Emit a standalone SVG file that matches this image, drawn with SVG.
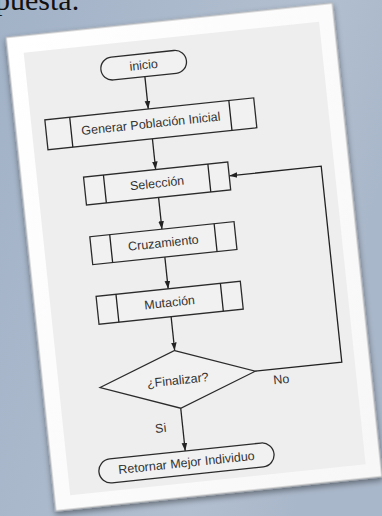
<svg xmlns="http://www.w3.org/2000/svg" width="382" height="516" viewBox="0 0 382 516">
<defs>
  <linearGradient id="bg" x1="0" y1="0" x2="1" y2="0.35">
    <stop offset="0" stop-color="#a2b2c7"/>
    <stop offset="0.75" stop-color="#b2bfd0"/>
    <stop offset="1" stop-color="#a9b7ca"/>
  </linearGradient>
  <linearGradient id="paperg" x1="0" y1="0" x2="1" y2="1">
    <stop offset="0" stop-color="#ffffff"/>
    <stop offset="1" stop-color="#f7f7f7"/>
  </linearGradient>
  <filter id="sh" x="-10%" y="-10%" width="120%" height="120%">
    <feGaussianBlur in="SourceAlpha" stdDeviation="3"/>
    <feOffset dx="0" dy="3"/>
    <feComponentTransfer><feFuncA type="linear" slope="0.45"/></feComponentTransfer>
    <feMerge><feMergeNode/><feMergeNode in="SourceGraphic"/></feMerge>
  </filter>
  <marker id="ah" viewBox="0 0 10 10" refX="10" refY="5" markerWidth="8" markerHeight="8" orient="auto" markerUnits="userSpaceOnUse">
    <path d="M0,1.5 L10,5 L0,8.5 z" fill="#222"/>
  </marker>
  <style>
    .box{fill:#f1f1f1;stroke:#2b2b2b;stroke-width:1.3}
    .t{font-family:"Liberation Sans",Arial,sans-serif;font-size:12.5px;fill:#333;text-anchor:middle;dominant-baseline:central}
    .c{fill:none;stroke:#222;stroke-width:1.3}
  </style>
</defs>
<rect x="0" y="0" width="382" height="516" fill="url(#bg)"/>
<text x="-5" y="10" font-family="'Liberation Serif','Times New Roman',serif" font-size="30" fill="#111">puesta.</text>
<g transform="rotate(-6 194 257)">
  <g id="paper">
    <rect x="30" y="19" width="328" height="476" fill="url(#paperg)" stroke="#b8b8b8" stroke-width="1" filter="url(#sh)"/>
    <rect x="46" y="36" width="297" height="445" fill="#eeeeee"/>
  </g>
  <g id="connectors">
    <path class="c" d="M164,72.5 V105" marker-end="url(#ah)"/>
    <path class="c" d="M165,135 V166" marker-end="url(#ah)"/>
    <path class="c" d="M165,194 V226" marker-end="url(#ah)"/>
    <path class="c" d="M165,254 V286" marker-end="url(#ah)"/>
    <path class="c" d="M165,314 V348" marker-end="url(#ah)"/>
    <path class="c" d="M165,406 V449" marker-end="url(#ah)"/>
    <path class="c" d="M243,377 H330 V180 H237.5" marker-end="url(#ah)"/>
    <text class="t" x="268" y="388">No</text>
    <text class="t" x="143" y="424">Si</text>
  </g>
  <g id="inicio">
    <rect class="box" x="121" y="49.5" width="86" height="23" rx="11.5"/>
    <text class="t" x="164" y="61">inicio</text>
  </g>
  <g id="generar">
    <rect class="box" x="60" y="105" width="210" height="30"/>
    <path class="c" d="M85,105 V135 M245,105 V135"/>
    <text class="t" x="165" y="120">Generar Población Inicial</text>
  </g>
  <g id="seleccion">
    <rect class="box" x="92.5" y="166" width="145" height="28"/>
    <path class="c" d="M112.5,166 V194 M217.5,166 V194"/>
    <text class="t" x="165" y="180">Selección</text>
  </g>
  <g id="cruzamiento">
    <rect class="box" x="92.5" y="226" width="145" height="28"/>
    <path class="c" d="M112.5,226 V254 M217.5,226 V254"/>
    <text class="t" x="165" y="240">Cruzamiento</text>
  </g>
  <g id="mutacion">
    <rect class="box" x="92.5" y="286" width="145" height="28"/>
    <path class="c" d="M112.5,286 V314 M217.5,286 V314"/>
    <text class="t" x="165" y="300">Mutación</text>
  </g>
  <g id="finalizar">
    <polygon class="box" points="165,348 243,377 165,406 87,377"/>
    <text class="t" x="165" y="378">¿Finalizar?</text>
  </g>
  <g id="retornar">
    <rect class="box" x="77" y="449" width="176" height="24" rx="12"/>
    <text class="t" x="165" y="461">Retornar Mejor Individuo</text>
  </g>
</g>
</svg>
